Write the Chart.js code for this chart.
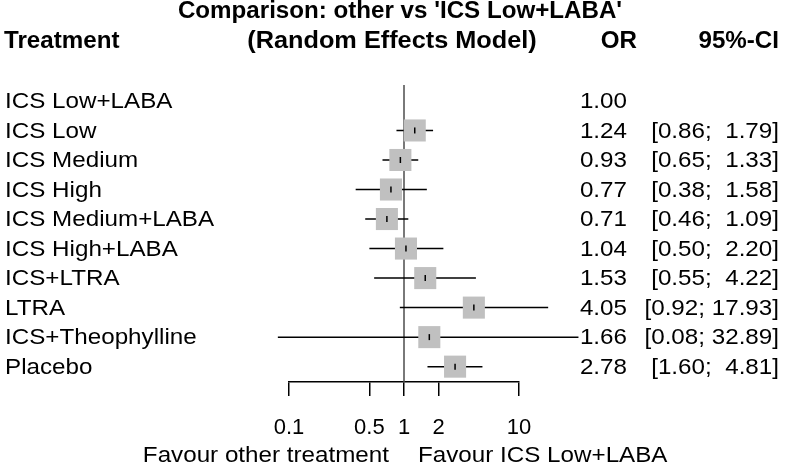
<!DOCTYPE html>
<html>
<head>
<meta charset="utf-8">
<script src="https://cdn.jsdelivr.net/npm/chart.js@4.4.1/dist/chart.umd.min.js"></script>
<style>
  html, body { margin: 0; padding: 0; background: #fff; }
  #forest { display: block; }
</style>
</head>
<body>
<canvas id="forest" width="791" height="468"></canvas>
<script>
// network meta-analysis results, reference treatment first
const treatments = ['ICS Low+LABA', 'ICS Low', 'ICS Medium', 'ICS High', 'ICS Medium+LABA',
  'ICS High+LABA', 'ICS+LTRA', 'LTRA', 'ICS+Theophylline', 'Placebo'];
const oddsRatio = [1.00, 1.24, 0.93, 0.77, 0.71, 1.04, 1.53, 4.05, 1.66, 2.78];
const ciLower = [null, 0.86, 0.65, 0.38, 0.46, 0.50, 0.55, 0.92, 0.08, 1.60];
const ciUpper = [null, 1.79, 1.33, 1.58, 1.09, 2.20, 4.22, 17.93, 32.89, 4.81];
const xTicks = [0.1, 0.5, 1, 2, 10];

const titleText = "Comparison: other vs 'ICS Low+LABA'";
const subTitle = '(Random Effects Model)';
const labelLeft = 'Favour other treatment';
const labelRight = 'Favour ICS Low+LABA';

const FONT = '"Liberation Sans", Arial, sans-serif';
const BOLD = 'bold 23px ' + FONT;
const BODY = '22px ' + FONT;

// draw text with a horizontal stretch factor
function txt(ctx, s, x, y, align, font, sx) {
  ctx.save();
  ctx.font = font;
  ctx.textBaseline = 'middle';
  ctx.textAlign = 'left';
  const w = ctx.measureText(s).width * sx;
  const left = align === 'right' ? x - w : align === 'center' ? x - w / 2 : x;
  ctx.translate(left, y);
  ctx.scale(sx, 1);
  ctx.fillStyle = '#000';
  ctx.fillText(s, 0, 0);
  ctx.restore();
}

const fmt = v => v.toFixed(2);
const ciText = i => ciLower[i] == null ? '' :
  '[' + fmt(ciLower[i]).padStart(4, ' ') + '; ' + fmt(ciUpper[i]).padStart(5, ' ') + ']';

// datasets: one CI segment per row, the squares, the point marks, the null line
const ciSets = [];
treatments.forEach((t, i) => {
  if (ciLower[i] == null) return;
  ciSets.push({
    type: 'line',
    data: [{ x: ciLower[i], y: i }, { x: ciUpper[i], y: i }],
    borderColor: '#000', borderWidth: 1.5, pointRadius: 0, clip: false, order: 3
  });
});
const rows = treatments.map((t, i) => i).filter(i => ciLower[i] != null);

const datasets = [
  {
    type: 'scatter',
    data: rows.map(i => ({ x: oddsRatio[i], y: i })),
    pointStyle: 'line', rotation: 90, pointRadius: 3,
    borderColor: '#000', borderWidth: 1.5, order: 0
  },
  {
    type: 'scatter',
    data: rows.map(i => ({ x: oddsRatio[i], y: i })),
    pointStyle: 'rect', pointRadius: 15.6,
    backgroundColor: '#c0c0c0', borderColor: '#c0c0c0', borderWidth: 0, order: 1
  },
  ...ciSets,
  {
    type: 'line',
    data: [{ x: 1, y: -0.54 }, { x: 1, y: 9.52 }],
    borderColor: '#4d4d4d', borderWidth: 1.5, pointRadius: 0, clip: false, order: 4
  }
];

const textColumns = {
  id: 'textColumns',
  afterDraw(chart) {
    const ctx = chart.ctx;
    const xs = chart.scales.x, ys = chart.scales.y;
    const ref = xs.getPixelForValue(1);
    txt(ctx, titleText, 400, 12, 'center', BOLD, 1.05);
    txt(ctx, 'Treatment', 4, 42, 'left', BOLD, 1.05);
    txt(ctx, subTitle, 392, 42, 'center', BOLD, 1.1);
    txt(ctx, 'OR', 637, 42, 'right', BOLD, 1.05);
    txt(ctx, '95%-CI', 779, 42, 'right', BOLD, 1.05);
    treatments.forEach((t, i) => {
      const y = ys.getPixelForValue(i) + 1;
      txt(ctx, t, 5, y, 'left', BODY, 1.1);
      txt(ctx, fmt(oddsRatio[i]), 627, y, 'right', BODY, 1.1);
      txt(ctx, ciText(i), 779, y, 'right', BODY, 1.1);
    });
    txt(ctx, labelLeft, ref - 15, 456, 'right', BODY, 1.1);
    txt(ctx, labelRight, ref + 14, 456, 'left', BODY, 1.1);
  }
};

new Chart(document.getElementById('forest'), {
  data: { datasets },
  options: {
    responsive: false,
    animation: false,
    events: [],
    layout: { padding: { left: 289, right: 272, top: 85, bottom: 0 } },
    plugins: { legend: { display: false }, tooltip: { enabled: false }, title: { display: false } },
    scales: {
      x: {
        type: 'logarithmic',
        min: 0.1, max: 10,
        afterFit: s => { s.height = 86; },
        afterBuildTicks: s => { s.ticks = xTicks.map(v => ({ value: v })); },
        border: { display: true, color: '#000', width: 1.5 },
        grid: { drawOnChartArea: false, drawTicks: true, tickLength: 14, color: '#000', lineWidth: 1.5 },
        ticks: {
          autoSkip: false, maxRotation: 0, padding: 19, color: '#000',
          font: { family: FONT, size: 22 },
          callback: v => String(v)
        }
      },
      y: {
        type: 'linear', reverse: true, min: -0.54, max: 9.52, display: false
      }
    }
  },
  plugins: [textColumns]
});
</script>
</body>
</html>
